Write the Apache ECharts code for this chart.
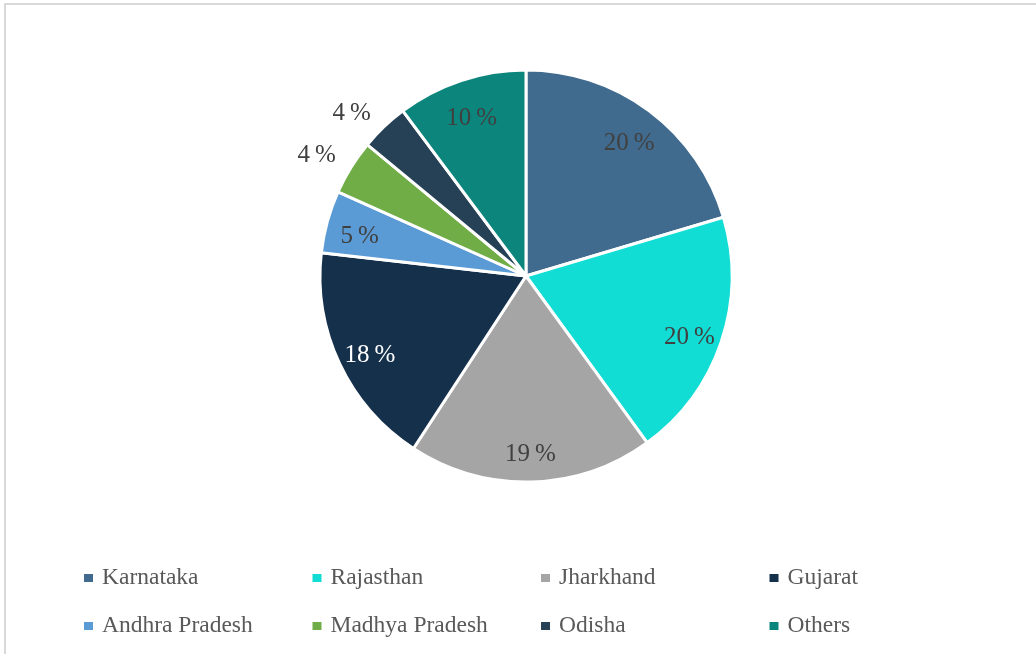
<!DOCTYPE html>
<html>
<head>
<meta charset="utf-8">
<title>State share</title>
<script src="https://cdn.jsdelivr.net/npm/echarts@6/dist/echarts.min.js"></script>
<style>
    html, body { margin: 0; padding: 0; background: #ffffff; }
    #state_pie { width: 1036px; height: 654px; }
</style>
</head>
<body>
<div id="state_pie"></div>
<script>
var states = ['Karnataka', 'Rajasthan', 'Jharkhand', 'Gujarat', 'Andhra Pradesh', 'Madhya Pradesh', 'Odisha', 'Others'];
var shares = [20.4, 19.6, 19.2, 17.6, 4.9, 4.3, 3.8, 10.2];
var colours = ['#416b8e', '#11ddd5', '#a5a5a5', '#15304b', '#5b9bd5', '#70ad47', '#264156', '#0c857d'];
var outsideLabels = ['Madhya Pradesh', 'Odisha'];

var pieGraph = echarts.init(document.getElementById('state_pie'));

// visible slices
var sliceData = states.map(function (name, i) {
    return { name: name, value: shares[i], itemStyle: { color: colours[i] } };
});

// transparent twin, only used to place the labels further out
var labelData = states.map(function (name, i) {
    var outside = outsideLabels.indexOf(name) >= 0;
    return {
        name: name,
        value: shares[i],
        label: {
            position: outside ? 'outside' : 'inside',
            offset: outside ? [0, -5] : [0, 6],
            color: name === 'Gujarat' ? '#ffffff' : '#404040'
        }
    };
});

pieGraph.setOption({
    animation: false,
    graphic: [{
        type: 'rect',
        shape: { x: 5, y: 4, width: 1100, height: 700 },
        style: { fill: 'none', stroke: '#d9d9d9', lineWidth: 2 },
        silent: true
    }],
    legend: {
        left: 82,
        top: 563,
        width: 930,
        padding: 0,
        icon: 'rect',
        itemWidth: 11,
        itemHeight: 10,
        itemGap: 18,
        textStyle: {
            fontFamily: 'Liberation Serif',
            fontSize: 23.5,
            color: '#595959',
            width: 190.5,
            lineHeight: 30,
            padding: [0, 0, 0, 3]
        },
        data: states
    },
    series: [
        {
            name: 'share',
            type: 'pie',
            center: [526, 276],
            radius: [0, 206],
            startAngle: 90,
            label: { show: false },
            labelLine: { show: false },
            itemStyle: { borderColor: '#ffffff', borderWidth: 3 },
            emphasis: { disabled: true },
            data: sliceData
        },
        {
            name: 'labels',
            type: 'pie',
            center: [526, 276],
            radius: [133, 206],
            startAngle: 90,
            silent: true,
            avoidLabelOverlap: false,
            itemStyle: { color: 'transparent', borderWidth: 0 },
            emphasis: { disabled: true },
            label: {
                show: true,
                fontFamily: 'Liberation Serif',
                fontSize: 25,
                formatter: function (p) {
                    return Math.round(p.value) + '\u2009%';
                }
            },
            labelLine: { show: false, length: 12, length2: 0 },
            data: labelData
        }
    ]
});

window.addEventListener('resize', function () {
    pieGraph.resize();
});
</script>
</body>
</html>
